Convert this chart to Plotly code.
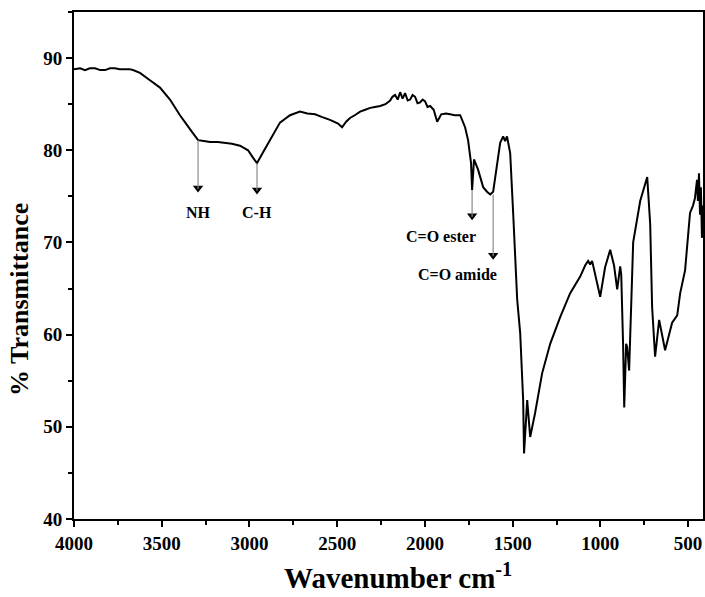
import plotly.graph_objects as go

# FTIR spectrum values
wavenumber = [4000, 3965, 3937, 3910, 3880, 3850, 3823, 3795, 3766, 3740, 3709, 3685,
              3664, 3624, 3567, 3510, 3453, 3396,
              3339, 3293, 3260, 3225, 3180, 3139, 3100, 3054, 3008, 2980, 2957, 2928, 2883, 2826, 2769,
              2712, 2670, 2626, 2585, 2541, 2495, 2472, 2449, 2427, 2400, 2369, 2340, 2312, 2285, 2255,
              2225, 2198, 2185, 2170, 2155,
              2141, 2127, 2113, 2098, 2084, 2070, 2056, 2042, 2027, 2013, 1999, 1985, 1970, 1950,
              1930, 1907, 1880, 1856, 1830, 1799, 1771,
              1754, 1737, 1731, 1720, 1697, 1668, 1646, 1628, 1611, 1589, 1571, 1554,
              1543, 1532, 1514, 1497, 1474, 1457, 1440, 1435, 1417, 1400, 1372, 1332,
              1286, 1229, 1172, 1115, 1087, 1070, 1058, 1047, 1030, 1001, 973, 944,
              922, 904, 887, 881, 870, 864, 853, 847, 836, 813, 773, 733, 716, 705,
              688, 665, 631, 591, 562, 545, 517, 506, 489, 472, 461, 449, 444, 438,
              432, 427, 421, 415]
transmittance = [88.8, 88.9, 88.7, 88.9, 88.9, 88.7, 88.7, 88.9, 88.9, 88.8, 88.8, 88.8,
                 88.7, 88.4, 87.6, 86.8, 85.5, 83.8,
                 82.3, 81.1, 81.0, 80.9, 80.9, 80.8, 80.7, 80.5, 80.0, 79.2, 78.6, 79.6, 81.1, 83.0, 83.8,
                 84.2, 84.0, 83.9, 83.6, 83.3, 82.9, 82.5, 83.1, 83.5, 83.8, 84.2, 84.4, 84.6, 84.7, 84.8,
                 85.0, 85.4, 85.8, 86.0, 85.5,
                 86.3, 85.6, 86.2, 85.4, 85.5, 86.0, 85.8, 85.1, 85.2, 85.5, 85.3, 84.7, 84.8, 84.4,
                 83.1, 83.9, 84.0, 83.9, 83.8, 83.8, 82.5,
                 81.1, 78.6, 75.7, 79.0, 77.9, 76.0, 75.5, 75.2, 75.5, 78.6, 80.8, 81.5,
                 81.0, 81.5, 79.7, 73.2, 63.8, 60.2, 52.9, 47.1, 52.9, 48.9, 51.5, 55.8,
                 59.0, 61.9, 64.5, 66.3, 67.5, 68.0, 67.6, 68.0, 66.5, 64.1, 67.3, 69.2,
                 67.5, 64.9, 67.4, 66.5, 58.6, 52.1, 59.0, 58.6, 56.1, 70.0, 74.5, 77.1,
                 72.0, 63.0, 57.6, 61.6, 58.3, 61.3, 62.1, 64.5, 67.0, 69.7, 73.2, 74.0,
                 74.8, 76.8, 74.5, 77.5, 73.0, 76.0, 70.5, 74.0]

# Peak annotations: label, arrow x, arrow start y, arrow tip y, label x, label y
ann_labels = ["NH", "C-H", "C=O ester", "C=O amide"]
ann_x = [3293, 2957, 1731, 1611]
ann_y0 = [81.1, 78.6, 75.7, 75.2]
ann_y1 = [75.2, 75.0, 72.2, 67.9]
ann_lx = [3293, 2957, 1908, 1817]
ann_ly = [73.3, 73.3, 70.7, 66.5]

x_ticks = [4000, 3500, 3000, 2500, 2000, 1500, 1000, 500]
y_ticks = [40, 50, 60, 70, 80, 90]
x_title = "Wavenumber cm<sup>-1</sup>"
y_title = "% Transmittance"

FONT = "Liberation Serif, Times New Roman, serif"

fig = go.Figure()
fig.add_trace(go.Scatter(x=wavenumber, y=transmittance, mode="lines",
                         line=dict(color="black", width=2), showlegend=False))

for i in range(len(ann_labels)):
    fig.add_shape(type="line", x0=ann_x[i], x1=ann_x[i], y0=ann_y0[i], y1=ann_y1[i] + 0.6,
                  line=dict(color="#8a8a8a", width=1.2), layer="above")
fig.add_trace(go.Scatter(x=ann_x, y=[v + 0.7 for v in ann_y1], mode="markers",
                         marker=dict(symbol="triangle-down", size=9, color="black"),
                         showlegend=False, hoverinfo="skip"))
for i in range(len(ann_labels)):
    fig.add_annotation(x=ann_lx[i], y=ann_ly[i], text="<b>%s</b>" % ann_labels[i],
                       showarrow=False, font=dict(family=FONT, size=16, color="black"))

# axis titles as annotations for precise placement
fig.add_annotation(xref="paper", yref="paper", x=0.515, y=0, yshift=-57,
                   xanchor="center", yanchor="middle", showarrow=False,
                   text="<b>%s</b>" % x_title, font=dict(family=FONT, size=29, color="black"))
fig.add_annotation(xref="paper", yref="paper", x=0, xshift=-54, y=0.432,
                   xanchor="center", yanchor="middle", showarrow=False, textangle=-90,
                   text="<b>%s</b>" % y_title, font=dict(family=FONT, size=26, color="black"))

axis_common = dict(showline=True, linecolor="black", linewidth=2, mirror=True,
                   ticks="outside", ticklen=6, tickwidth=2, tickcolor="black",
                   showgrid=False, zeroline=False, automargin=False,
                   tickfont=dict(family=FONT, size=19, color="black"))

fig.update_xaxes(range=[4000, 415], tickvals=x_ticks,
                 ticktext=["<b>%d</b>" % v for v in x_ticks],
                 minor=dict(dtick=250, ticks="outside", ticklen=4, tickwidth=2, tickcolor="black"),
                 **axis_common)
fig.update_yaxes(range=[40, 95], tickvals=y_ticks,
                 ticktext=["<b>%d</b>" % v for v in y_ticks],
                 minor=dict(dtick=5, ticks="outside", ticklen=4, tickwidth=2, tickcolor="black"),
                 **axis_common)

fig.update_layout(width=705, height=597, margin=dict(l=74, r=2, t=12, b=78, autoexpand=False),
                  plot_bgcolor="white", paper_bgcolor="white")

fig.write_html("out.html", config={"displayModeBar": False},
               post_script="document.body.style.margin='0';")
